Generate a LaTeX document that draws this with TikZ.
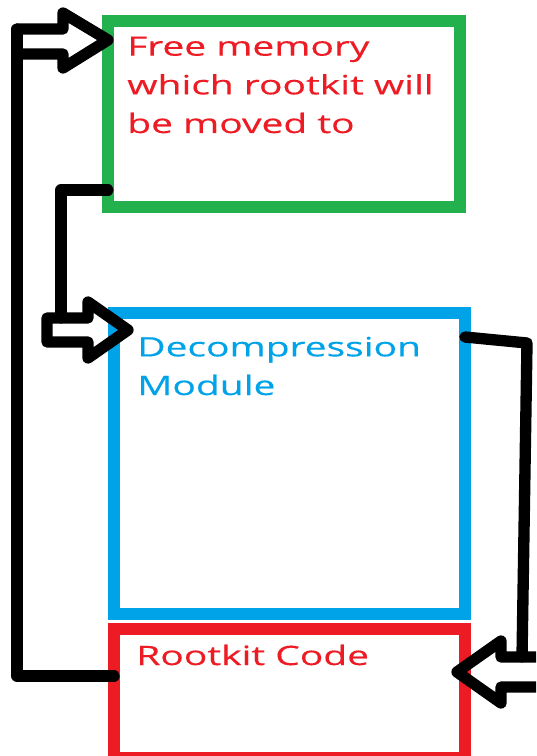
\documentclass[tikz,border=0pt]{standalone}
\usepackage{fontspec}
\usetikzlibrary{fit,calc}
\newfontfamily\lbl[FakeStretch=1.46,FakeBold=0.4]{Open Sans}
\definecolor{paintgreen}{HTML}{22B14C}
\definecolor{paintblue}{HTML}{00A2E8}
\definecolor{paintred}{HTML}{ED1C24}

\begin{document}
\begin{tikzpicture}
  [x=0.75pt,y=-0.75pt,
   box/.style={draw=#1,line width=9pt,inner sep=0pt,outer sep=0pt},
   txt/.style={text=#1,anchor=base west,align=left,inner sep=0pt,
     font=\lbl\fontsize{20}{29}\selectfont},
   wire/.style={line width=8.5pt,line join=round,line cap=round}]
  \useasboundingbox (0,0) rectangle (536,756);
  \clip (0,0) rectangle (536,756);

  \node[box=paintgreen,fit={(108,21) (460,207)}] (free) {};
  \node[box=paintblue,fit={(114,313) (465,614)}] (decomp) {};
  \node[box=paintred,fit={(114,629) (465,758)}] (rk) {};

  % base anchor sits on the last line
  \node[txt=paintred] (freetxt) at ($(free.north west)+(19,112)$)
    {Free memory\\which rootkit will\\be moved to};
  \node[txt=paintblue] (decomptxt) at ($(decomp.north west)+(23,82)$)
    {Decompression\\Module};
  \node[txt=paintred] (rktxt) at ($(rk.north west)+(22,36)$) {Rootkit Code};

  % rootkit code back up to the free memory
  \draw[wire] (rk.west |- 0,676) -- (17,676) -- (17,29);
  \draw[wire] (free.west |- 0,40) -- ++(-45,-27) -- ++(0,16) -- ++(-46,0)
    -- ++(0,25) -- ++(46,0) -- ++(0,14) -- cycle;

  % free memory down to the decompression module
  \draw[wire] (free.west |- 0,190) -- (61,190) -- (61,318);
  \draw[wire] ($(decomp.north west)+(14,17)$) -- ++(-40,-28) -- ++(0,16)
    -- ++(-41,0) -- ++(0,24) -- ++(41,0) -- ++(0,16) -- cycle;

  % decompression module over to the rootkit code
  \draw[wire] (decomp.east |- 0,337) -- (527,343) -- (522,657);
  \draw[wire] ($(rk.east |- 0,672)+(-8,0)$) -- ++(44,-31) -- ++(0,16)
    -- ++(100,0) -- ++(0,30) -- ++(-100,0) -- ++(0,16) -- cycle;
\end{tikzpicture}
\end{document}
